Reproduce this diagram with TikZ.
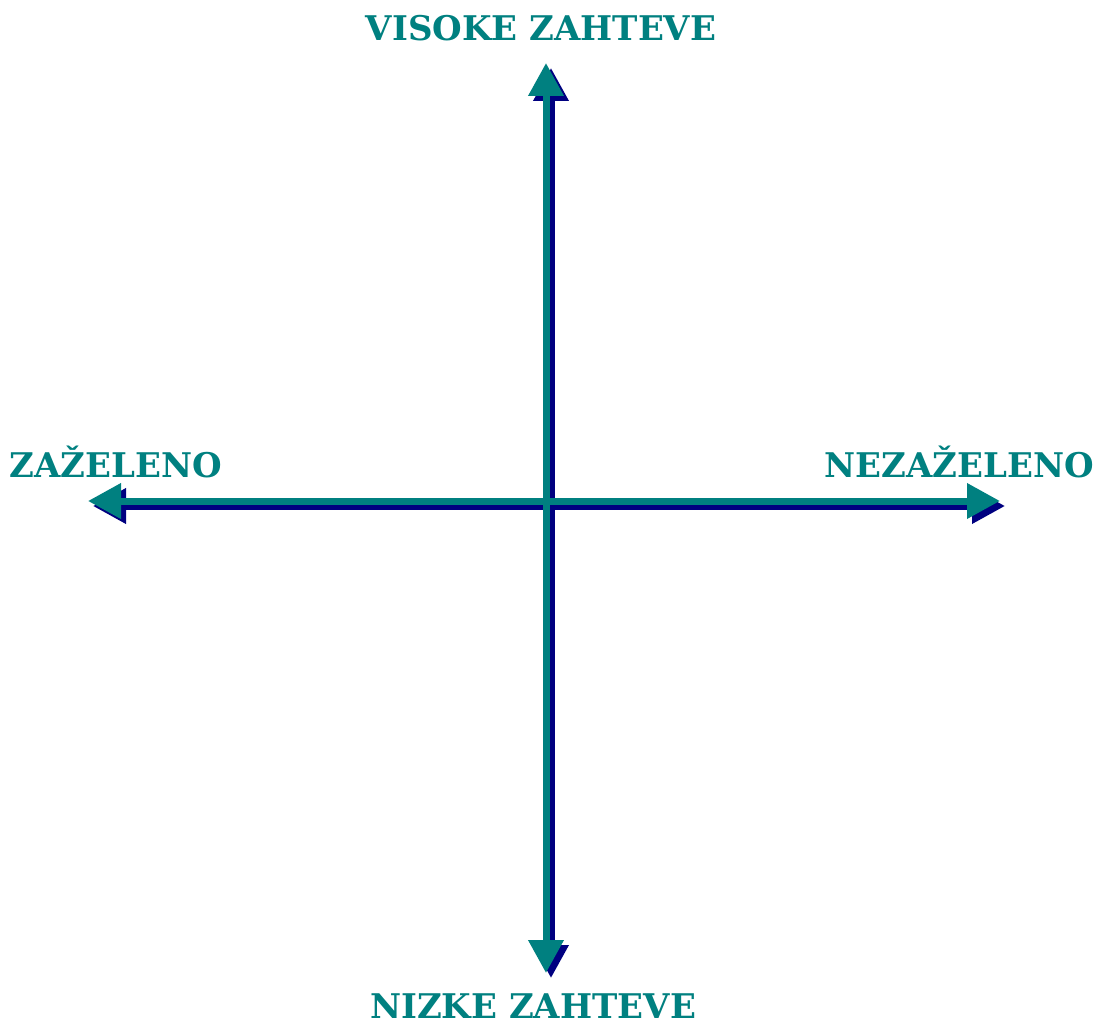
\documentclass[tikz,border=0pt]{standalone}
\usepackage{fontspec}
\setmainfont{DejaVu Serif}
\usetikzlibrary{arrows.meta}
\definecolor{axteal}{HTML}{008080}
\definecolor{axnavy}{HTML}{000080}
\tikzset{
  axis/.style={line width=7pt, {Triangle[length=33pt,width=34pt]}-{Triangle[length=33pt,width=34pt]}},
  axshadow/.style={axis, draw=axnavy, fill=axnavy},
  axmain/.style={axis, draw=axteal, fill=axteal},
  lbl/.style={text=axteal, font=\fontsize{34}{38}\selectfont\bfseries, inner sep=0pt}
}
\begin{document}
\begin{tikzpicture}[x=1pt,y=-1pt]
\useasboundingbox (0,0) rectangle (1096,1025);
\coordinate (top) at (546,63);
\coordinate (bottom) at (546,973);
\coordinate (left) at (88,501);
\coordinate (right) at (1000,501);
\draw[axshadow] ([shift={(5,5)}]top) -- ([shift={(5,5)}]bottom);
\draw[axshadow] ([shift={(5,5)}]left) -- ([shift={(5,5)}]right);
\draw[axmain] (top) -- (bottom);
\draw[axmain] (left) -- (right);
\node[lbl] (vis) at (541,28) {VISOKE ZAHTEVE};
\node[lbl] (niz) at (533,1006) {NIZKE ZAHTEVE};
\node[lbl] (zaz) at (116,462) {ZAŽELENO};
\node[lbl] (nez) at (959,462) {NEZAŽELENO};
\end{tikzpicture}
\end{document}
